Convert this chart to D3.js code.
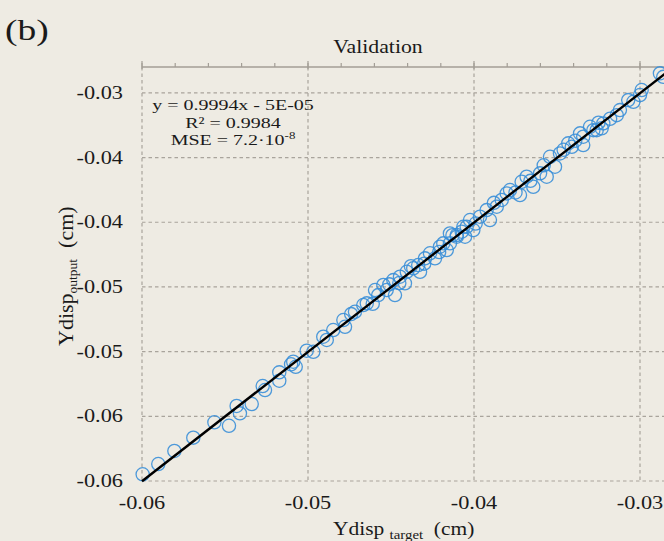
<!DOCTYPE html>
<html>
<head>
<meta charset="utf-8">
<script src="https://cdn.jsdelivr.net/npm/d3@7/dist/d3.min.js"></script>
<style>
  html, body { margin: 0; padding: 0; background: #eeebe3; }
  svg { display: block; }
  text { font-family: "Liberation Serif", "Times New Roman", serif; fill: #1a1a1a; }
</style>
</head>
<body>
<svg id="chart" width="664" height="541"></svg>
<script>
// ---- data ----
const targetValues = [
  -0.05996, -0.05902, -0.05805, -0.05691, -0.05564, -0.05476, -0.05430, -0.05410, -0.05339, -0.05273,
  -0.05259, -0.05173, -0.05173, -0.05102, -0.05089, -0.05074, -0.05008, -0.04968, -0.04908, -0.04887,
  -0.04848, -0.04787, -0.04777, -0.04717, -0.04667, -0.04646, -0.04596, -0.04577, -0.04546, -0.04526,
  -0.04486, -0.04476, -0.04446, -0.04416, -0.04405, -0.04366, -0.04336, -0.04325, -0.04295, -0.04265,
  -0.04235, -0.04205, -0.04164, -0.04145, -0.04104, -0.04074, -0.04044, -0.04054, -0.04185, -0.04145,
  -0.04104, -0.04064, -0.04024, -0.04004, -0.03964, -0.03924, -0.03904, -0.03863, -0.03833, -0.03803,
  -0.03783, -0.03723, -0.03713, -0.03683, -0.03643, -0.03602, -0.03562, -0.03542, -0.03512, -0.03482,
  -0.03432, -0.03411, -0.03361, -0.03342, -0.03301, -0.03261, -0.03221, -0.03342, -0.03281, -0.03231,
  -0.03140, -0.03121, -0.03071, -0.03040, -0.02990, -0.03000, -0.02880, -0.02860,
  -0.04740, -0.04610, -0.04510, -0.04450, -0.04380, -0.04300, -0.04210, -0.04130, -0.03990, -0.03880,
  -0.03750, -0.03660, -0.03580, -0.03460, -0.03390, -0.03250, -0.03180
];
const outputValues = [
  -0.05948, -0.05869, -0.05768, -0.05665, -0.05546, -0.05573, -0.05420, -0.05477, -0.05405, -0.05266,
  -0.05297, -0.05160, -0.05225, -0.05098, -0.05078, -0.05117, -0.04993, -0.05001, -0.04885, -0.04910,
  -0.04833, -0.04756, -0.04808, -0.04692, -0.04640, -0.04627, -0.04524, -0.04563, -0.04485, -0.04524,
  -0.04447, -0.04563, -0.04421, -0.04472, -0.04383, -0.04356, -0.04331, -0.04383, -0.04279, -0.04240,
  -0.04279, -0.04189, -0.04215, -0.04163, -0.04099, -0.04073, -0.04035, -0.04112, -0.04163, -0.04086,
  -0.04112, -0.04035, -0.03983, -0.04060, -0.03957, -0.03906, -0.03983, -0.03880, -0.03828, -0.03777,
  -0.03751, -0.03790, -0.03687, -0.03648, -0.03726, -0.03622, -0.03648, -0.03494, -0.03571, -0.03468,
  -0.03390, -0.03417, -0.03313, -0.03339, -0.03262, -0.03288, -0.03236, -0.03403, -0.03288, -0.03274,
  -0.03172, -0.03133, -0.03056, -0.03069, -0.02978, -0.03017, -0.02849, -0.02876,
  -0.04710, -0.04630, -0.04480, -0.04470, -0.04340, -0.04320, -0.04230, -0.04100, -0.04010, -0.03850,
  -0.03770, -0.03680, -0.03560, -0.03440, -0.03370, -0.03230, -0.03200
];
const fitSlope = 0.9994;
const fitIntercept = -0.00005;
const xTickValues = [-0.06, -0.05, -0.04, -0.03];
const xTickLabels = ["-0.06", "-0.05", "-0.04", "-0.03"];
const yTickValues = [-0.06, -0.055, -0.05, -0.045, -0.04, -0.035, -0.03];
const yTickLabels = ["-0.06", "-0.06", "-0.05", "-0.05", "-0.04", "-0.04", "-0.03"];
const xMinorTicks = d3.range(0, 17).map(i => -0.06 + i * 0.002);
const equationLines = ["y = 0.9994x - 5E-05", "R² = 0.9984"];

// ---- drawing ----
const svg = d3.select("#chart");
const x = d3.scaleLinear().domain([-0.06, -0.028]).range([142, 673.2]);
const y = d3.scaleLinear().domain([-0.06, -0.028]).range([481, 67]);
const gridColor = "#a9a49c";
const SX = 1.24; // horizontal stretch of the source figure's text

function stretchedText(parent, px, py, size, anchor, sx) {
  return parent.append("g").attr("transform", `translate(${px},${py}) scale(${sx},1)`)
    .append("text").attr("x", 0).attr("y", 0).attr("font-size", size).attr("text-anchor", anchor);
}

// gridlines
svg.append("g").selectAll("line").data(xTickValues).join("line")
  .attr("x1", d => x(d)).attr("x2", d => x(d))
  .attr("y1", y(-0.028)).attr("y2", y(-0.06))
  .attr("stroke", gridColor).attr("stroke-width", 1.2).attr("stroke-dasharray", "3.5,3");
svg.append("g").selectAll("line").data(yTickValues).join("line")
  .attr("x1", x(-0.06)).attr("x2", 664)
  .attr("y1", d => y(d)).attr("y2", d => y(d))
  .attr("stroke", gridColor).attr("stroke-width", 1.2).attr("stroke-dasharray", "3.5,3");

// top axis line with ticks
const axisY = y(-0.028);
svg.append("line").attr("x1", x(-0.06)).attr("x2", 664).attr("y1", axisY).attr("y2", axisY)
  .attr("stroke", "#a39e96").attr("stroke-width", 1.6);
svg.append("g").selectAll("line").data(xMinorTicks).join("line")
  .attr("x1", d => x(d)).attr("x2", d => x(d))
  .attr("y1", axisY - 4).attr("y2", axisY)
  .attr("stroke", "#a39e96").attr("stroke-width", 1.2);
svg.append("g").selectAll("line").data(xTickValues).join("line")
  .attr("x1", d => x(d)).attr("x2", d => x(d))
  .attr("y1", axisY - 6).attr("y2", axisY + 2)
  .attr("stroke", "#a39e96").attr("stroke-width", 1.2);

// tick labels
const xtg = svg.append("g");
xTickValues.forEach((d, i) => stretchedText(xtg, x(d), 508.5, 18, "middle", SX).text(xTickLabels[i]));
const ytg = svg.append("g");
yTickValues.forEach((d, i) => stretchedText(ytg, 123, y(d) + 6, 18, "end", SX).text(yTickLabels[i]));

// points
svg.append("g").selectAll("circle").data(targetValues.map((t, i) => [t, outputValues[i]])).join("circle")
  .attr("cx", d => x(d[0])).attr("cy", d => y(d[1])).attr("r", 6.6)
  .attr("fill", "none").attr("stroke", "#3a8fd8").attr("stroke-width", 1.3).attr("stroke-opacity", 0.9);

// fit line
const fx = [-0.06, -0.028];
svg.append("line")
  .attr("x1", x(fx[0])).attr("y1", y(fitSlope * fx[0] + fitIntercept))
  .attr("x2", x(fx[1])).attr("y2", y(fitSlope * fx[1] + fitIntercept))
  .attr("stroke", "#000").attr("stroke-width", 2.4);

// equation text
const eq = svg.append("g");
stretchedText(eq, 233, 110, 15.5, "middle", 1.29).text(equationLines[0]);
stretchedText(eq, 233, 127.5, 15.5, "middle", 1.29).text(equationLines[1]);
const mse = stretchedText(eq, 233, 145, 15.5, "middle", 1.29);
mse.append("tspan").text("MSE = 7.2·10");
mse.append("tspan").attr("font-size", 10).attr("dy", -6).text("-8");

// title and panel label
stretchedText(svg, 378, 53, 18, "middle", 1.21).text("Validation");
stretchedText(svg, 5, 40, 30, "start", 1.25).text("(b)");

// x axis title
const xt = stretchedText(svg, 333, 535, 19.5, "start", 1.1);
xt.append("tspan").text("Ydisp ");
xt.append("tspan").attr("font-size", 13.5).attr("dy", 4).text("target");
xt.append("tspan").attr("dy", -4).text("\u2002(cm)");

// y axis title
const yt = svg.append("text").attr("transform", "translate(73,346) rotate(-90)").attr("font-size", 22);
yt.append("tspan").text("Ydisp");
yt.append("tspan").attr("font-size", 13.5).attr("dy", 4).text("output");
yt.append("tspan").attr("dy", -4).text("\u2002(cm)");
</script>
</body>
</html>
